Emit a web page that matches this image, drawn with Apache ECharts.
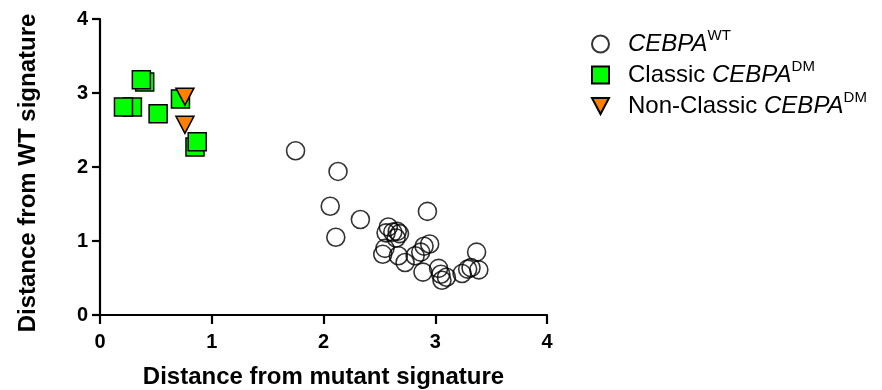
<!DOCTYPE html>
<html>
<head>
<meta charset="utf-8">
<script src="https://cdn.jsdelivr.net/npm/echarts@6/dist/echarts.min.js"></script>
<style>html,body{margin:0;padding:0;background:#fff}#c{width:882px;height:390px}</style>
</head>
<body>
<div id="c"></div>
<script>
// Data
const wtPoints = [
  [1.75,2.22],[2.13,1.94],[2.06,1.47],[2.11,1.05],[2.33,1.29],
  [2.58,1.19],[2.56,1.11],[2.62,1.12],[2.66,1.13],[2.68,1.10],[2.65,1.04],
  [2.53,0.82],[2.55,0.90],
  [2.67,0.80],[2.73,0.71],
  [2.82,0.80],[2.87,0.85],[2.90,0.93],[2.95,0.96],
  [2.93,1.40],
  [2.89,0.58],
  [3.03,0.63],[3.05,0.55],[3.06,0.47],[3.10,0.51],
  [3.24,0.56],[3.29,0.62],[3.32,0.64],[3.39,0.61],
  [3.37,0.85]
];
const classicPoints = [
  [0.40,3.15],[0.37,3.18],[0.29,2.81],[0.21,2.81],[0.52,2.72],
  [0.72,2.92],[0.85,2.27],[0.87,2.34]
];
const nonClassicPoints = [
  [0.76,2.95],[0.76,2.57]
];
const xTicks = [0,1,2,3,4];
const yTicks = [0,1,2,3,4];
const seriesNames = ['wt','classic','nonclassic'];
const xTitle = 'Distance from mutant signature';
const yTitle = 'Distance from WT signature';

const FONT = '"Liberation Sans", Arial, sans-serif';
const chart = echarts.init(document.getElementById('c'), null, {renderer:'canvas'});

const legendText = {
  wt: '{g|}{i|CEBPA}{s|WT}',
  classic: '{g|}{n|Classic }{i|CEBPA}{s|DM}',
  nonclassic: '{g|}{n|Non-Classic }{i|CEBPA}{s|DM}'
};
const DOWN_TRI = 'path://M0,0L20,0L10,19Z';

chart.setOption({
  animation: false,
  backgroundColor: '#fff',
  grid: {left: 100, right: 335, top: 19, bottom: 75, containLabel: false, outerBoundsMode: 'none'},
  xAxis: {
    type: 'value', min: xTicks[0], max: xTicks[xTicks.length-1], interval: 1,
    name: xTitle, nameLocation: 'middle', nameGap: 50,
    nameTextStyle: {fontFamily: FONT, fontWeight: 'bold', fontSize: 24, color: '#000'},
    axisLine: {show: true, onZero: false, lineStyle: {color: '#000', width: 2.2}},
    axisTick: {show: true, length: 9, lineStyle: {color: '#000', width: 2.2}},
    axisLabel: {fontFamily: FONT, fontWeight: 'bold', fontSize: 20, color: '#000', margin: 17},
    splitLine: {show: false}
  },
  yAxis: {
    type: 'value', min: yTicks[0], max: yTicks[yTicks.length-1], interval: 1,
    name: yTitle, nameLocation: 'middle', nameGap: 60,
    nameTextStyle: {fontFamily: FONT, fontWeight: 'bold', fontSize: 24, color: '#000', padding: [0, 12, 0, 0]},
    axisLine: {show: true, onZero: false, lineStyle: {color: '#000', width: 2.2}},
    axisTick: {show: true, length: 8, lineStyle: {color: '#000', width: 2.2}},
    axisLabel: {fontFamily: FONT, fontWeight: 'bold', fontSize: 20, color: '#000', margin: 12},
    splitLine: {show: false}
  },
  legend: {
    orient: 'vertical', left: 586, top: 23, itemWidth: 17, itemHeight: 17, itemGap: 3,
    data: [
      {name: seriesNames[0]},
      {name: seriesNames[1]},
      {name: seriesNames[2], icon: DOWN_TRI}
    ],
    formatter: function(name){ return legendText[name]; },
    textStyle: {
      rich: {
        g: {width: 14},
        n: {fontFamily: FONT, fontSize: 24, color: '#000', lineHeight: 32},
        i: {fontFamily: FONT, fontSize: 24, color: '#000', fontStyle: 'italic', lineHeight: 32},
        s: {fontFamily: FONT, fontSize: 15, color: '#000', lineHeight: 18, verticalAlign: 'top'}
      }
    }
  },
  series: [
    {
      name: 'wt', type: 'scatter', data: wtPoints, symbol: 'circle', symbolSize: 18,
      itemStyle: {color: 'rgba(255,255,255,0)', borderColor: '#000', borderWidth: 1.6},
      emphasis: {disabled: true}, z: 2
    },
    {
      name: 'classic', type: 'scatter', data: classicPoints, symbol: 'rect', symbolSize: 18,
      itemStyle: {color: '#00ff00', borderColor: '#000', borderWidth: 1.5, opacity: 1},
      emphasis: {disabled: true}, z: 3
    },
    {
      name: 'nonclassic', type: 'scatter', data: nonClassicPoints, symbol: 'triangle', symbolRotate: 180,
      symbolSize: [18, 17],
      itemStyle: {color: '#ff8000', borderColor: '#000', borderWidth: 1.5, opacity: 1},
      emphasis: {disabled: true}, z: 4
    }
  ]
});
</script>
</body>
</html>
